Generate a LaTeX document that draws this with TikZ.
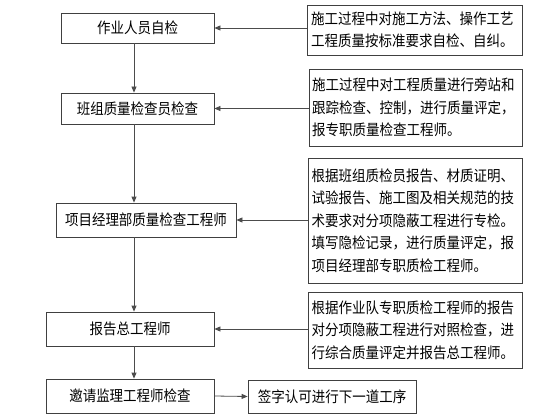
\documentclass[tikz,border=0pt]{standalone}
\usepackage{fontspec}
\newfontfamily\cjk[FakeStretch=0.9]{Noto Sans CJK SC}
\usetikzlibrary{arrows.meta}
\begin{document}
\begin{tikzpicture}[x=1pt,y=-1pt,
  every node/.style={font=\cjk\fontsize{15}{22.5}\selectfont, text=black},
  lbox/.style={draw=black!75, line width=0.8pt, inner sep=0pt, anchor=center},
  rbox/.style={draw=black!75, line width=0.8pt, inner sep=0pt, anchor=center, align=left},
  arr/.style={draw=black!70, line width=0.8pt, -{Triangle[length=6pt,width=5pt]}}]
\useasboundingbox (0,0) rectangle (560,420);
\fill[white] (0,0) rectangle (560,420);
% left column
\node[lbox, minimum width=153pt, minimum height=30pt] (L1) at (137.5,28) {作业人员自检};
\node[lbox, minimum width=153pt, minimum height=31pt] (L2) at (137.5,108.5) {班组质量检查员检查};
\node[lbox, minimum width=180pt, minimum height=34pt] (L3) at (146,220) {项目经理部质量检查工程师};
\node[lbox, minimum width=168pt, minimum height=34pt] (L4) at (130,329) {报告总工程师};
\node[lbox, minimum width=168pt, minimum height=34pt] (L5) at (130,396) {邀请监理工程师检查};
\node[lbox, minimum width=168pt, minimum height=33pt] (L6) at (332,396.5) {签字认可进行下一道工序};
% right column
\node[rbox, minimum width=215pt, minimum height=50pt, text width=207pt] (R1) at (414.5,30)
  {施工过程中对施工方法、操作工艺\\工程质量按标准要求自检、自纠。};
\node[rbox, minimum width=213pt, minimum height=77pt, text width=207pt] (R2) at (415.5,107.5)
  {施工过程中对工程质量进行旁站和\\跟踪检查、控制，进行质量评定，\\报专职质量检查工程师。};
\node[rbox, minimum width=214pt, minimum height=125pt, text width=207pt] (R3) at (415,220.5)
  {根据班组质检员报告、材质证明、\\试验报告、施工图及相关规范的技\\术要求对分项隐蔽工程进行专检。\\填写隐检记录，进行质量评定，报\\项目经理部专职质检工程师。};
\node[rbox, minimum width=214pt, minimum height=76pt, text width=207pt] (R4) at (415,330)
  {根据作业队专职质检工程师的报告\\对分项隐蔽工程进行对照检查，进\\行综合质量评定并报告总工程师。};
% connectors
\coordinate (spine) at (134,0);
\draw[arr] (L1.south -| spine) -- (L2.north -| spine);
\draw[arr] (L2.south -| spine) -- (L3.north -| spine);
\draw[arr] (L3.south -| spine) -- (L4.north -| spine);
\draw[arr] (L4.south -| spine) -- (L5.north -| spine);
\draw[arr] (L5.east) -- (L6.west);
\draw[arr] (R1.west |- L1.east) -- (L1.east);
\draw[arr] (R2.west |- L2.east) -- (L2.east);
\draw[arr] (R3.west |- L3.east) -- (L3.east);
\draw[arr] (R4.west |- L4.east) -- (L4.east);
\end{tikzpicture}
\end{document}
